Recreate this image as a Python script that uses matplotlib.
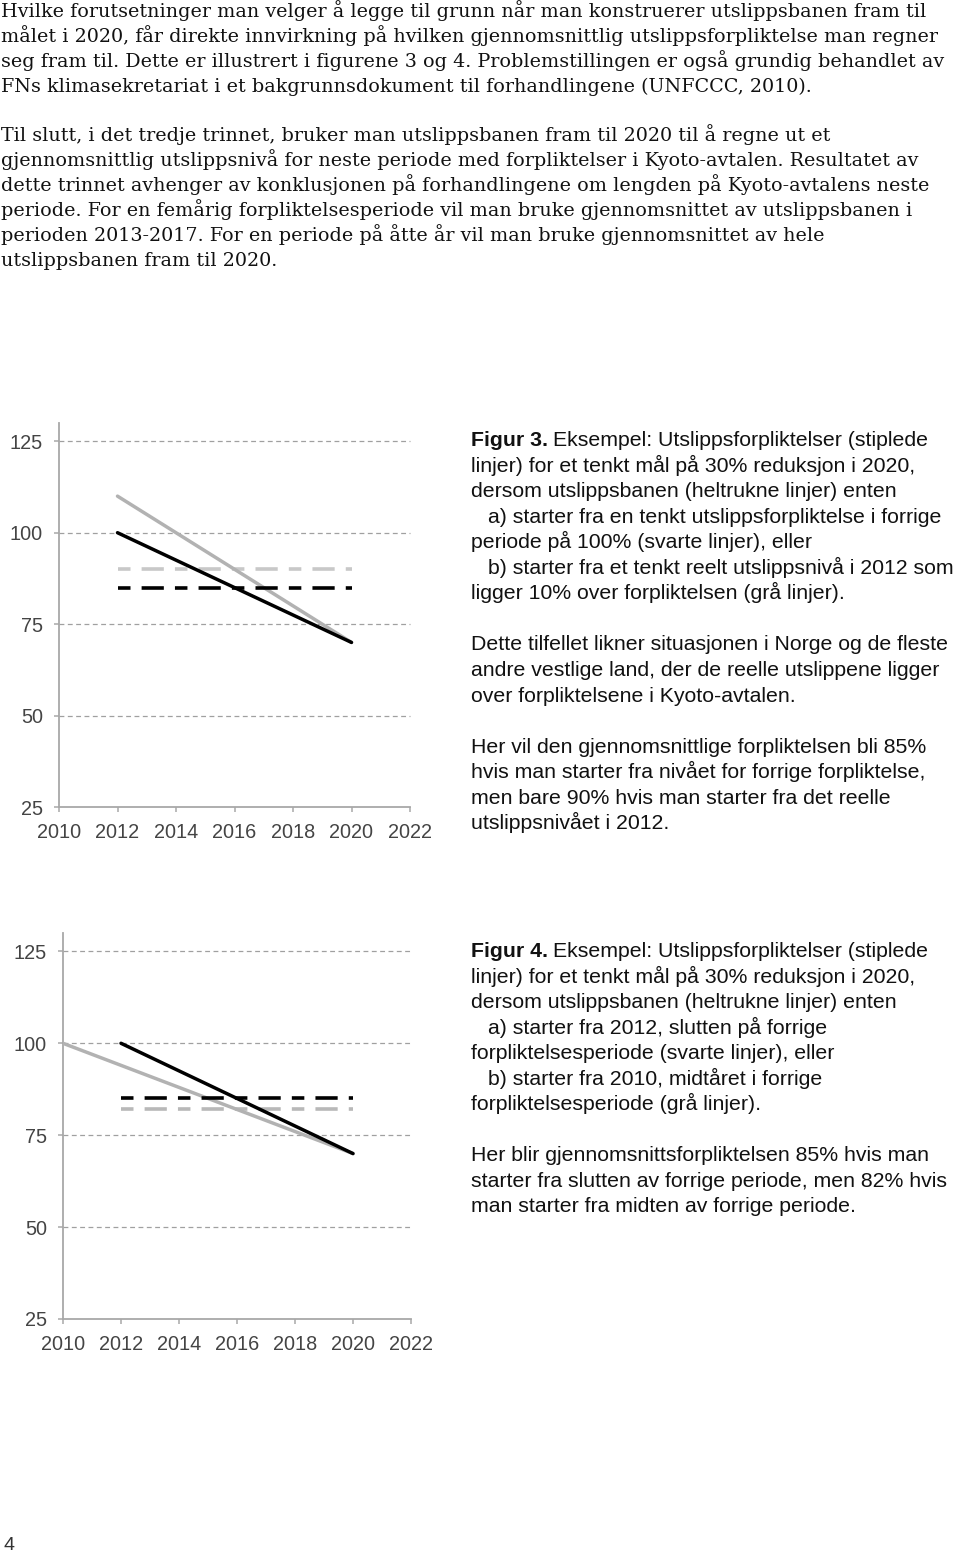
import matplotlib
matplotlib.use("Agg")
import matplotlib.pyplot as plt

W, H = 960, 1552
DPI = 100

# ---------------- data ----------------
years = [2010, 2012, 2014, 2016, 2018, 2020, 2022]
yticks = [25, 50, 75, 100, 125]
gridlines = [50, 75, 100, 125]

# Figure 3
f3_black_x = [2012, 2020]
f3_black_y = [100, 70]
f3_grey_x = [2012, 2020]
f3_grey_y = [110, 70]
f3_period = [2012, 2020]
f3_black_commit = 85
f3_grey_commit = 90

# Figure 4
f4_black_x = [2012, 2020]
f4_black_y = [100, 70]
f4_grey_x = [2010, 2020]
f4_grey_y = [100, 70]
f4_period = [2012, 2020]
f4_black_commit = 85
f4_grey_commit = 82

para1 = [
    "Hvilke forutsetninger man velger å legge til grunn når man konstruerer utslippsbanen fram til",
    "målet i 2020, får direkte innvirkning på hvilken gjennomsnittlig utslippsforpliktelse man regner",
    "seg fram til. Dette er illustrert i figurene 3 og 4. Problemstillingen er også grundig behandlet av",
    "FNs klimasekretariat i et bakgrunnsdokument til forhandlingene (UNFCCC, 2010).",
]
para2 = [
    "Til slutt, i det tredje trinnet, bruker man utslippsbanen fram til 2020 til å regne ut et",
    "gjennomsnittlig utslippsnivå for neste periode med forpliktelser i Kyoto-avtalen. Resultatet av",
    "dette trinnet avhenger av konklusjonen på forhandlingene om lengden på Kyoto-avtalens neste",
    "periode. For en femårig forpliktelsesperiode vil man bruke gjennomsnittet av utslippsbanen i",
    "perioden 2013-2017. For en periode på åtte år vil man bruke gjennomsnittet av hele",
    "utslippsbanen fram til 2020.",
]

cap3_title = "Figur 3."
cap3 = [
    "Eksempel: Utslippsforpliktelser (stiplede",
    "linjer) for et tenkt mål på 30% reduksjon i 2020,",
    "dersom utslippsbanen (heltrukne linjer) enten",
    "a) starter fra en tenkt utslippsforpliktelse i forrige",
    "periode på 100% (svarte linjer), eller",
    "b) starter fra et tenkt reelt utslippsnivå i 2012 som",
    "ligger 10% over forpliktelsen (grå linjer).",
    "",
    "Dette tilfellet likner situasjonen i Norge og de fleste",
    "andre vestlige land, der de reelle utslippene ligger",
    "over forpliktelsene i Kyoto-avtalen.",
    "",
    "Her vil den gjennomsnittlige forpliktelsen bli 85%",
    "hvis man starter fra nivået for forrige forpliktelse,",
    "men bare 90% hvis man starter fra det reelle",
    "utslippsnivået i 2012.",
]
cap4_title = "Figur 4."
cap4 = [
    "Eksempel: Utslippsforpliktelser (stiplede",
    "linjer) for et tenkt mål på 30% reduksjon i 2020,",
    "dersom utslippsbanen (heltrukne linjer) enten",
    "a) starter fra 2012, slutten på forrige",
    "forpliktelsesperiode (svarte linjer), eller",
    "b) starter fra 2010, midtåret i forrige",
    "forpliktelsesperiode (grå linjer).",
    "",
    "Her blir gjennomsnittsforpliktelsen 85% hvis man",
    "starter fra slutten av forrige periode, men 82% hvis",
    "man starter fra midten av forrige periode.",
]
page_number = "4"

# ---------------- figure ----------------
plt.rcParams['lines.scale_dashes'] = False
fig = plt.figure(figsize=(W / DPI, H / DPI), dpi=DPI)
fig.patch.set_facecolor("white")


def fx(px):
    return px / W


def fy(py):
    return 1 - py / H


AX_GREY = "#a8a8a8"
TICK_COL = "#444444"
SANS = ["Liberation Sans", "DejaVu Sans"]
SERIF = ["DejaVu Serif"]

DASH = (0, (9, 8, 16, 8))


def make_chart(left_px, right_px, top_px, bottom_px, black, grey, period, bc, gc, grey_dash_col):
    ax = fig.add_axes([fx(left_px), fy(bottom_px), fx(right_px - left_px), (bottom_px - top_px) / H])
    ax.set_xlim(2010, 2022)
    ax.set_ylim(25, 130)
    for s in ["top", "right"]:
        ax.spines[s].set_visible(False)
    for s in ["left", "bottom"]:
        ax.spines[s].set_color(AX_GREY)
        ax.spines[s].set_linewidth(1.3)
    ax.set_xticks(years)
    ax.set_yticks(yticks)
    ax.set_xticklabels([str(y) for y in years])
    ax.set_yticklabels([str(v) for v in yticks])
    ax.tick_params(axis="x", direction="out", length=3.5, width=1.1, color=AX_GREY,
                   pad=8, labelsize=14.3, labelcolor=TICK_COL)
    ax.tick_params(axis="y", direction="out", length=3.5, width=1.1, color=AX_GREY,
                   pad=8, labelsize=14.3, labelcolor=TICK_COL)
    for lab in ax.get_xticklabels() + ax.get_yticklabels():
        lab.set_family(SANS)
    for g in gridlines:
        ax.plot([2010, 2022], [g, g], color="#a0a0a0", lw=0.9, ls=(0, (3.5, 2.5)),
                zorder=1, clip_on=False)
    ax.plot(period, [gc, gc], color=grey_dash_col, lw=2.6, ls=DASH, zorder=3,
            solid_capstyle="butt", dash_capstyle="butt")
    ax.plot(grey[0], grey[1], color="#b2b2b2", lw=2.5, zorder=4, solid_capstyle="round")
    ax.plot(black[0], black[1], color="#000000", lw=2.5, zorder=5, solid_capstyle="round")
    ax.plot(period, [bc, bc], color="#000000", lw=2.6, ls=DASH, zorder=6,
            dash_capstyle="butt")
    ax.set_facecolor("none")
    return ax


make_chart(59, 410, 423, 807, (f3_black_x, f3_black_y), (f3_grey_x, f3_grey_y),
           f3_period, f3_black_commit, f3_grey_commit, "#c8c8c8")
make_chart(63, 411, 933, 1319, (f4_black_x, f4_black_y), (f4_grey_x, f4_grey_y),
           f4_period, f4_black_commit, f4_grey_commit, "#b8b8b8")

# ---------------- body text ----------------
BODY_SIZE = 13.8
for i, line in enumerate(para1):
    fig.text(fx(1), fy(17 + 25.1 * i), line, family=SERIF, fontsize=BODY_SIZE,
             color="#111111", va="baseline", ha="left")
for i, line in enumerate(para2):
    fig.text(fx(1), fy(141 + 25.1 * i), line, family=SERIF, fontsize=BODY_SIZE,
             color="#111111", va="baseline", ha="left")

CAP_SIZE = 15.3
CAP_COL = "#111111"


def caption(title, lines, base_px):
    fig.text(fx(471), fy(base_px), title, family=SANS, fontsize=CAP_SIZE,
             weight="bold", color=CAP_COL, va="baseline", ha="left")
    for i, line in enumerate(lines):
        if not line:
            continue
        if i == 0:
            x = 553
        elif line.startswith("a)") or line.startswith("b)"):
            x = 488
        else:
            x = 471
        fig.text(fx(x), fy(base_px + 25.55 * i), line, family=SANS, fontsize=CAP_SIZE,
                 color=CAP_COL, va="baseline", ha="left")


caption(cap3_title, cap3, 446)
caption(cap4_title, cap4, 957)

fig.text(fx(4), fy(1550), page_number, family=SANS, fontsize=14, color="#333333",
         va="baseline", ha="left")

fig.savefig("out.png", dpi=DPI, facecolor="white")
